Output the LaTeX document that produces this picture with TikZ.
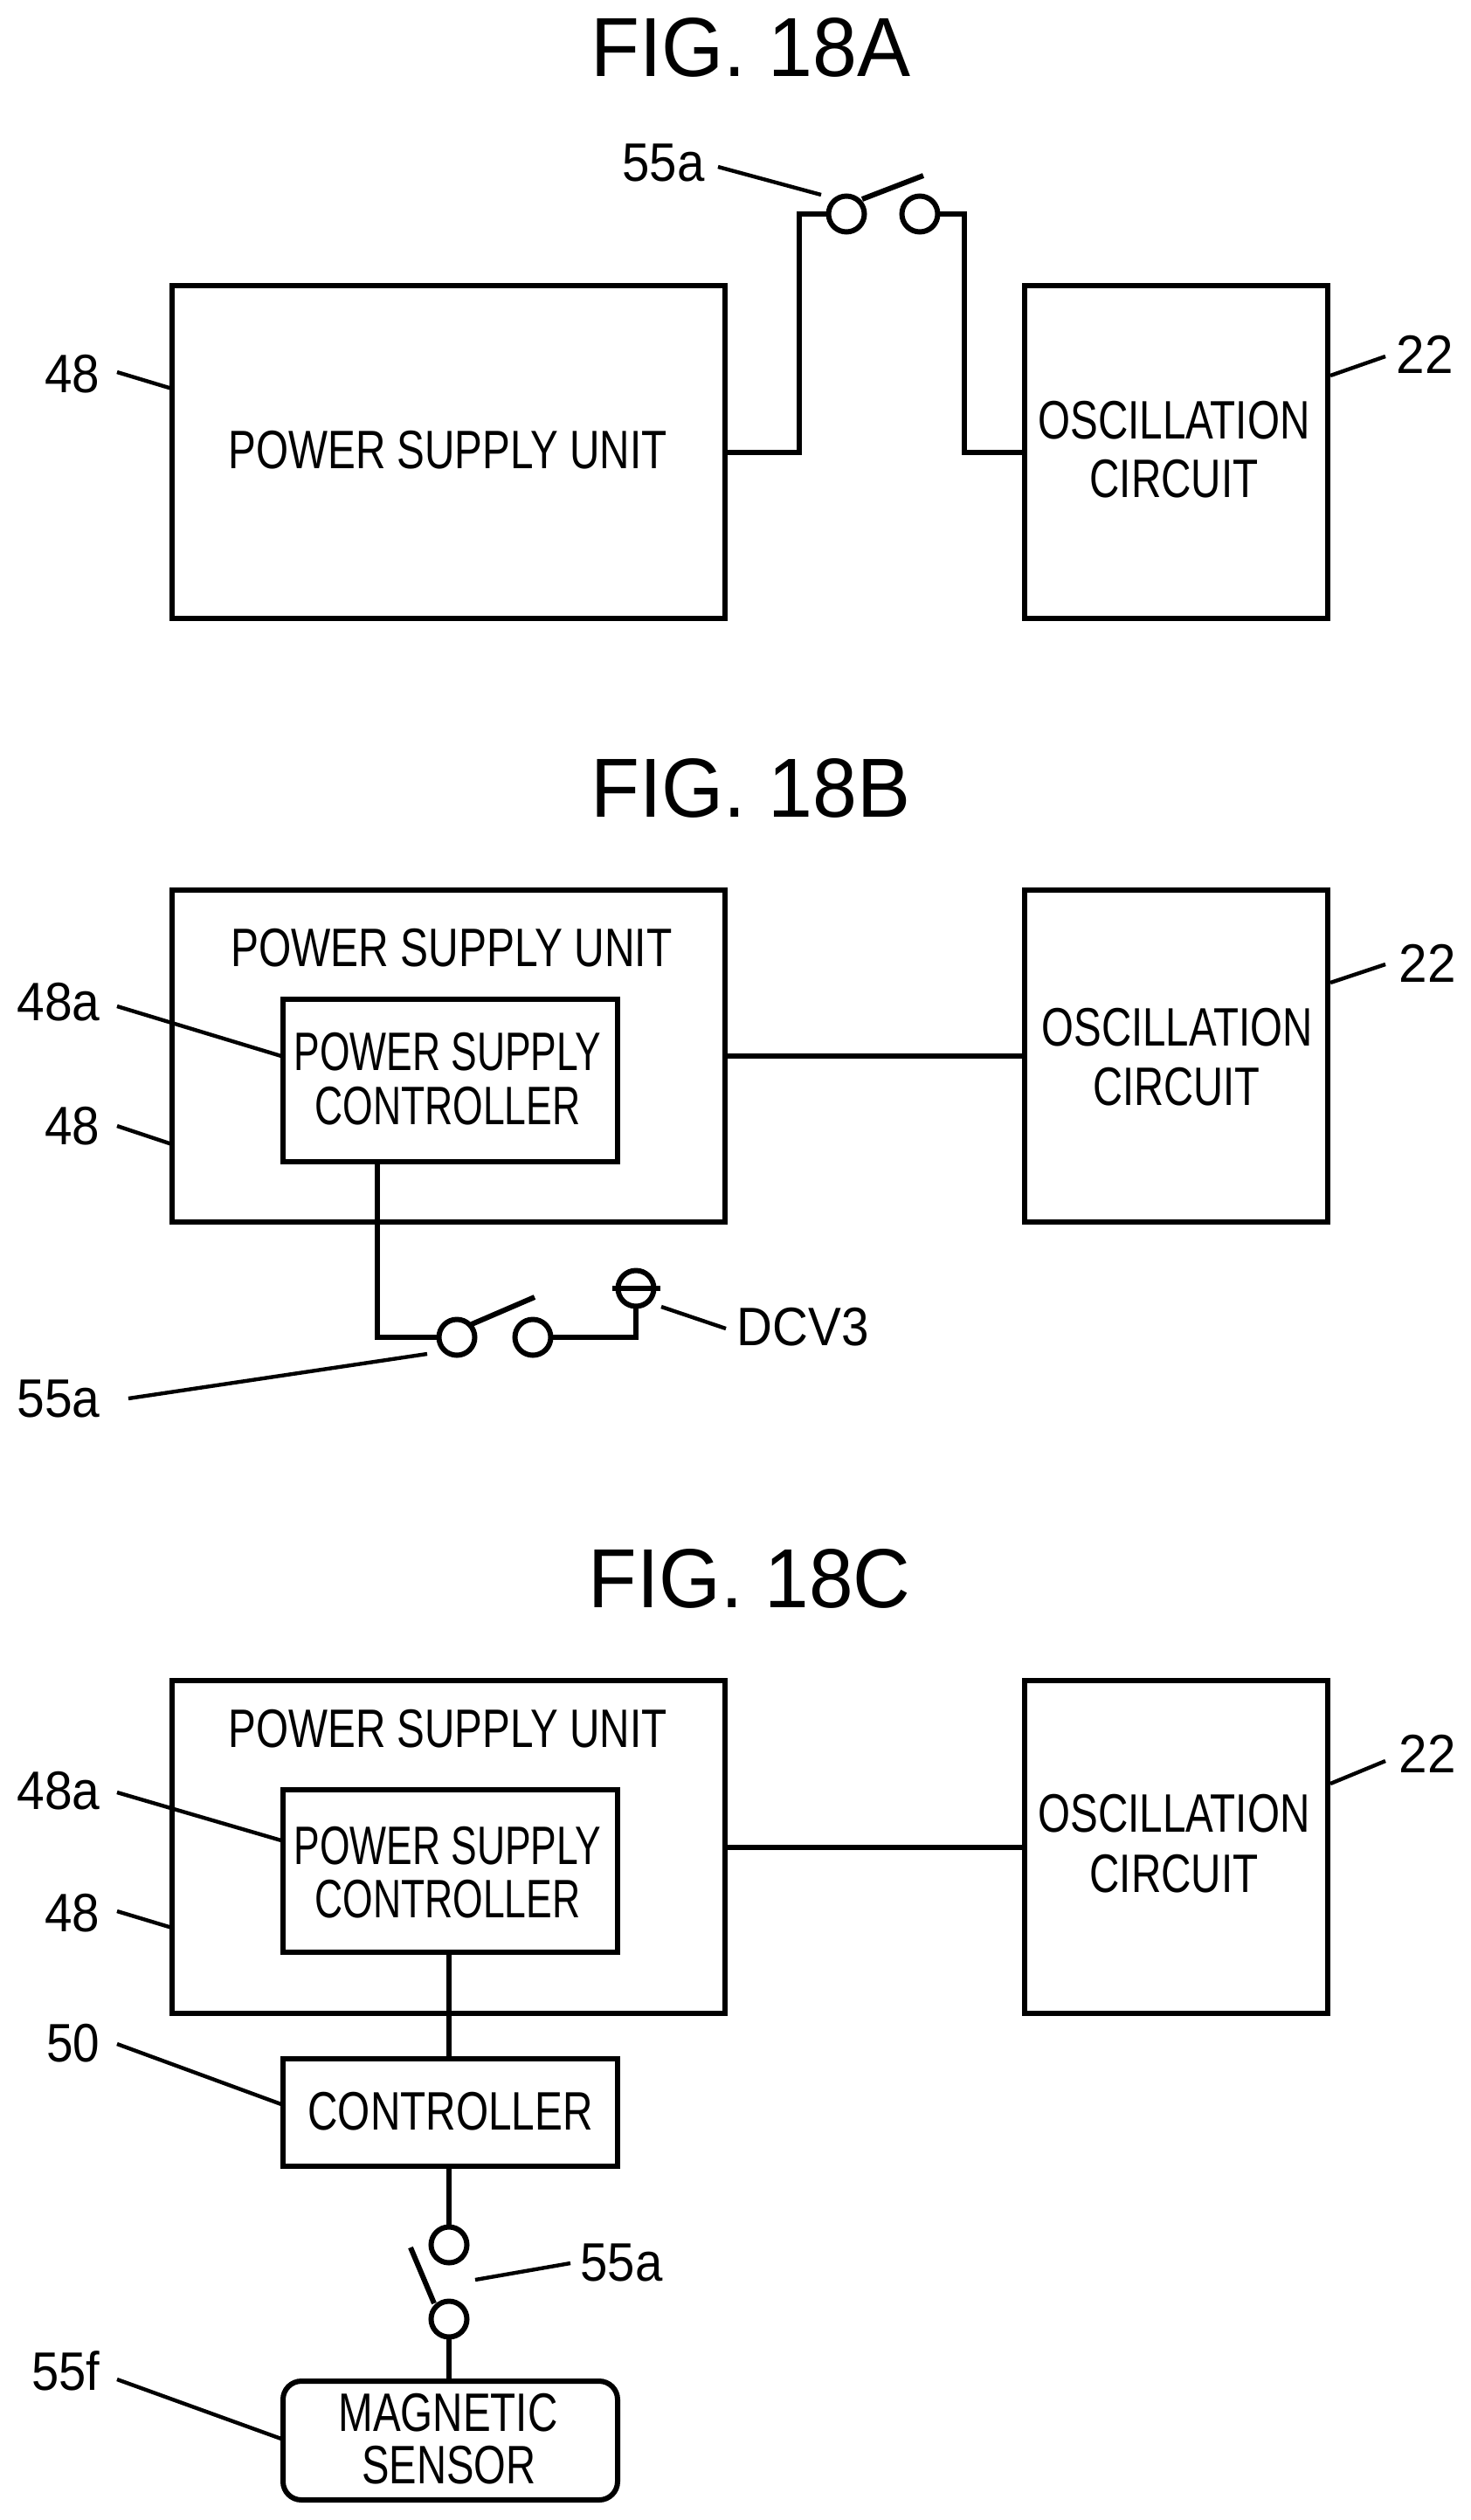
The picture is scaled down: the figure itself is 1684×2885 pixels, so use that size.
\documentclass[tikz,border=0pt]{standalone}
\usepackage{fontspec}
\usepackage{graphicx}
\setmainfont{Liberation Sans}
\newdimen\pxu \pxu=.5pt
\tikzset{
  wire/.style={line width=3pt},
  leader/.style={line width=2.2pt},
  boxn/.style={draw,rectangle,line width=3pt,inner sep=0pt,outer sep=0pt},
  roundn/.style={boxn,rounded corners=10.5pt},
  termn/.style={draw,circle,line width=3pt,inner sep=0pt,outer sep=0pt,minimum size=20.5pt},
  txtn/.style={inner sep=0pt,outer sep=0pt,anchor=base,font=\fontsize{31pt}{31pt}\selectfont},
  titlen/.style={inner sep=0pt,outer sep=0pt,anchor=base,font=\fontsize{48pt}{48pt}\selectfont},
}
% name, x1, y1, x2, y2, style
\newcommand{\tbox}[6]{%
  \pgfmathsetmacro{\bw}{(#4-#2)*0.5}%
  \pgfmathsetmacro{\bh}{(#5-#3)*0.5}%
  \pgfmathsetmacro{\bx}{(#4+#2)*0.5}%
  \pgfmathsetmacro{\by}{(#5+#3)*0.5}%
  \node[#6,minimum width=\bw pt,minimum height=\bh pt] (#1) at (\bx,\by) {};}
% name, left, baseline, right, text
\newcommand{\tlab}[5]{%
  \pgfmathsetmacro{\bx}{(#4+#2)*0.5}%
  \pgfmathsetmacro{\bw}{(#4-#2+3)*0.5}%
  \node[txtn] (#1) at (\bx,#3) {\resizebox{\bw pt}{\height}{#5}};}
\newcommand{\ttitle}[5]{%
  \pgfmathsetmacro{\bx}{(#4+#2)*0.5}%
  \pgfmathsetmacro{\bw}{(#4-#2+5)*0.5}%
  \node[titlen] (#1) at (\bx,#3) {\resizebox{\bw pt}{\height}{#5}};}
\begin{document}
\begin{tikzpicture}[x=.5pt,y=-.5pt]
\useasboundingbox[fill=white] (0,0) rectangle (1684,2885);

%%% FIG. 18A
\ttitle{aT}{679}{88}{1040}{FIG. 18A}
\tbox{aP}{197}{327}{830}{708}{boxn}
\tbox{aO}{1173}{327}{1520}{708}{boxn}
\tlab{aPt}{263}{536}{762}{POWER SUPPLY UNIT}
\tlab{aOt1}{1190}{502}{1498}{OSCILLATION}
\tlab{aOt2}{1249}{569}{1439}{CIRCUIT}
\node[termn] (aS1) at (969,245) {};
\node[termn] (aS2) at (1053,245) {};
\coordinate (aB1) at (987,228); \coordinate (aB2) at (1057,201);
\draw[wire] (aB1) -- (aB2);
\coordinate (aK1) at (915,245); \coordinate (aK2) at (1104,245);
\draw[wire] (aP.east) -| (aK1) -- (aS1.west);
\draw[wire] (aO.west) -| (aK2) -- (aS2.east);
\tlab{aL55}{714}{207}{805}{55a}
\tlab{aL48}{53}{449}{113}{48}
\tlab{aL22}{1600}{427}{1662}{22}
\coordinate (a1) at (822,191); \coordinate (a2) at (940,223);
\coordinate (a3) at (134,426); \coordinate (a4) at (197,445);
\coordinate (a5) at (1523,430); \coordinate (a6) at (1586,408);
\draw[leader] (a1) -- (a2);
\draw[leader] (a3) -- (a4);
\draw[leader] (a5) -- (a6);

%%% FIG. 18B
\ttitle{bT}{679}{935}{1040}{FIG. 18B}
\tbox{bP}{197}{1019}{830}{1399}{boxn}
\tbox{bC}{324}{1144}{707}{1330}{boxn}
\tbox{bO}{1173}{1019}{1520}{1399}{boxn}
\tlab{bPt}{266}{1106}{768}{POWER SUPPLY UNIT}
\tlab{bCt1}{338}{1225}{687}{POWER SUPPLY}
\tlab{bCt2}{362}{1287}{663}{CONTROLLER}
\tlab{bOt1}{1194}{1197}{1501}{OSCILLATION}
\tlab{bOt2}{1253}{1265}{1441}{CIRCUIT}
\draw[wire] (bP.east) -- (bO.west);
\node[termn] (bS1) at (523,1531) {};
\node[termn] (bS2) at (610,1531) {};
\node[termn] (bV) at (728,1475) {};
\coordinate (bBa) at (701,1475); \coordinate (bBb) at (756,1475);
\draw[wire] (bBa) -- (bBb);
\coordinate (bB1) at (540,1516); \coordinate (bB2) at (612,1485);
\draw[wire] (bB1) -- (bB2);
\coordinate (bK1) at (432,1531); \coordinate (bK2) at (728,1531);
\draw[wire] (bC.south -| bK1) -- (bK1) -- (bS1.west);
\draw[wire] (bS2.east) -- (bK2) -- (bV.south);
\tlab{bL48a}{21}{1168}{113}{48a}
\tlab{bL48}{53}{1310}{113}{48}
\tlab{bL22}{1603}{1124}{1665}{22}
\tlab{bL55}{21}{1622}{113}{55a}
\tlab{bLd}{845}{1540}{993}{DCV3}
\coordinate (b1) at (134,1152); \coordinate (b2) at (322,1209);
\coordinate (b3) at (134,1289); \coordinate (b4) at (197,1310);
\coordinate (b5) at (1523,1125); \coordinate (b6) at (1586,1104);
\coordinate (b7) at (147,1601); \coordinate (b8) at (489,1550);
\coordinate (b9) at (757,1496); \coordinate (b10) at (831,1521);
\draw[leader] (b1) -- (b2);
\draw[leader] (b3) -- (b4);
\draw[leader] (b5) -- (b6);
\draw[leader] (b7) -- (b8);
\draw[leader] (b9) -- (b10);

%%% FIG. 18C
\ttitle{cT}{676}{1840}{1040}{FIG. 18C}
\tbox{cP}{197}{1924}{830}{2305}{boxn}
\tbox{cC}{324}{2049}{707}{2235}{boxn}
\tbox{cO}{1173}{1924}{1520}{2305}{boxn}
\tbox{cK}{324}{2357}{707}{2480}{boxn}
\tbox{cM}{324}{2726}{707}{2862}{roundn}
\tlab{cPt}{263}{2000}{762}{POWER SUPPLY UNIT}
\tlab{cCt1}{338}{2134}{687}{POWER SUPPLY}
\tlab{cCt2}{362}{2195}{663}{CONTROLLER}
\tlab{cOt1}{1190}{2097}{1498}{OSCILLATION}
\tlab{cOt2}{1249}{2166}{1439}{CIRCUIT}
\tlab{cKt}{354}{2438}{677}{CONTROLLER}
\tlab{cMt1}{389}{2783}{637}{MAGNETIC}
\tlab{cMt2}{416}{2843}{612}{SENSOR}
\draw[wire] (cP.east) -- (cO.west);
\node[termn] (cS1) at (514,2570) {};
\node[termn] (cS2) at (514,2655) {};
\coordinate (cB1) at (470,2573); \coordinate (cB2) at (497,2637);
\draw[wire] (cB1) -- (cB2);
\coordinate (cJ) at (514,2300);
\draw[wire] (cC.south -| cJ) -- (cK.north -| cJ);
\draw[wire] (cK.south -| cJ) -- (cS1.north);
\draw[wire] (cS2.south) -- (cM.north -| cJ);
\tlab{cL48a}{21}{2071}{113}{48a}
\tlab{cL48}{53}{2211}{113}{48}
\tlab{cL22}{1603}{2029}{1665}{22}
\tlab{cL50}{55}{2360}{113}{50}
\tlab{cL55}{666}{2611}{757}{55a}
\tlab{cL55f}{38}{2736}{113}{55f}
\coordinate (c1) at (134,2052); \coordinate (c2) at (322,2107);
\coordinate (c3) at (134,2188); \coordinate (c4) at (197,2207);
\coordinate (c5) at (1523,2042); \coordinate (c6) at (1586,2016);
\coordinate (c7) at (134,2340); \coordinate (c8) at (322,2409);
\coordinate (c9) at (544,2610); \coordinate (c10) at (653,2591);
\coordinate (c11) at (134,2724); \coordinate (c12) at (322,2792);
\draw[leader] (c1) -- (c2);
\draw[leader] (c3) -- (c4);
\draw[leader] (c5) -- (c6);
\draw[leader] (c7) -- (c8);
\draw[leader] (c9) -- (c10);
\draw[leader] (c11) -- (c12);
\end{tikzpicture}
\end{document}
